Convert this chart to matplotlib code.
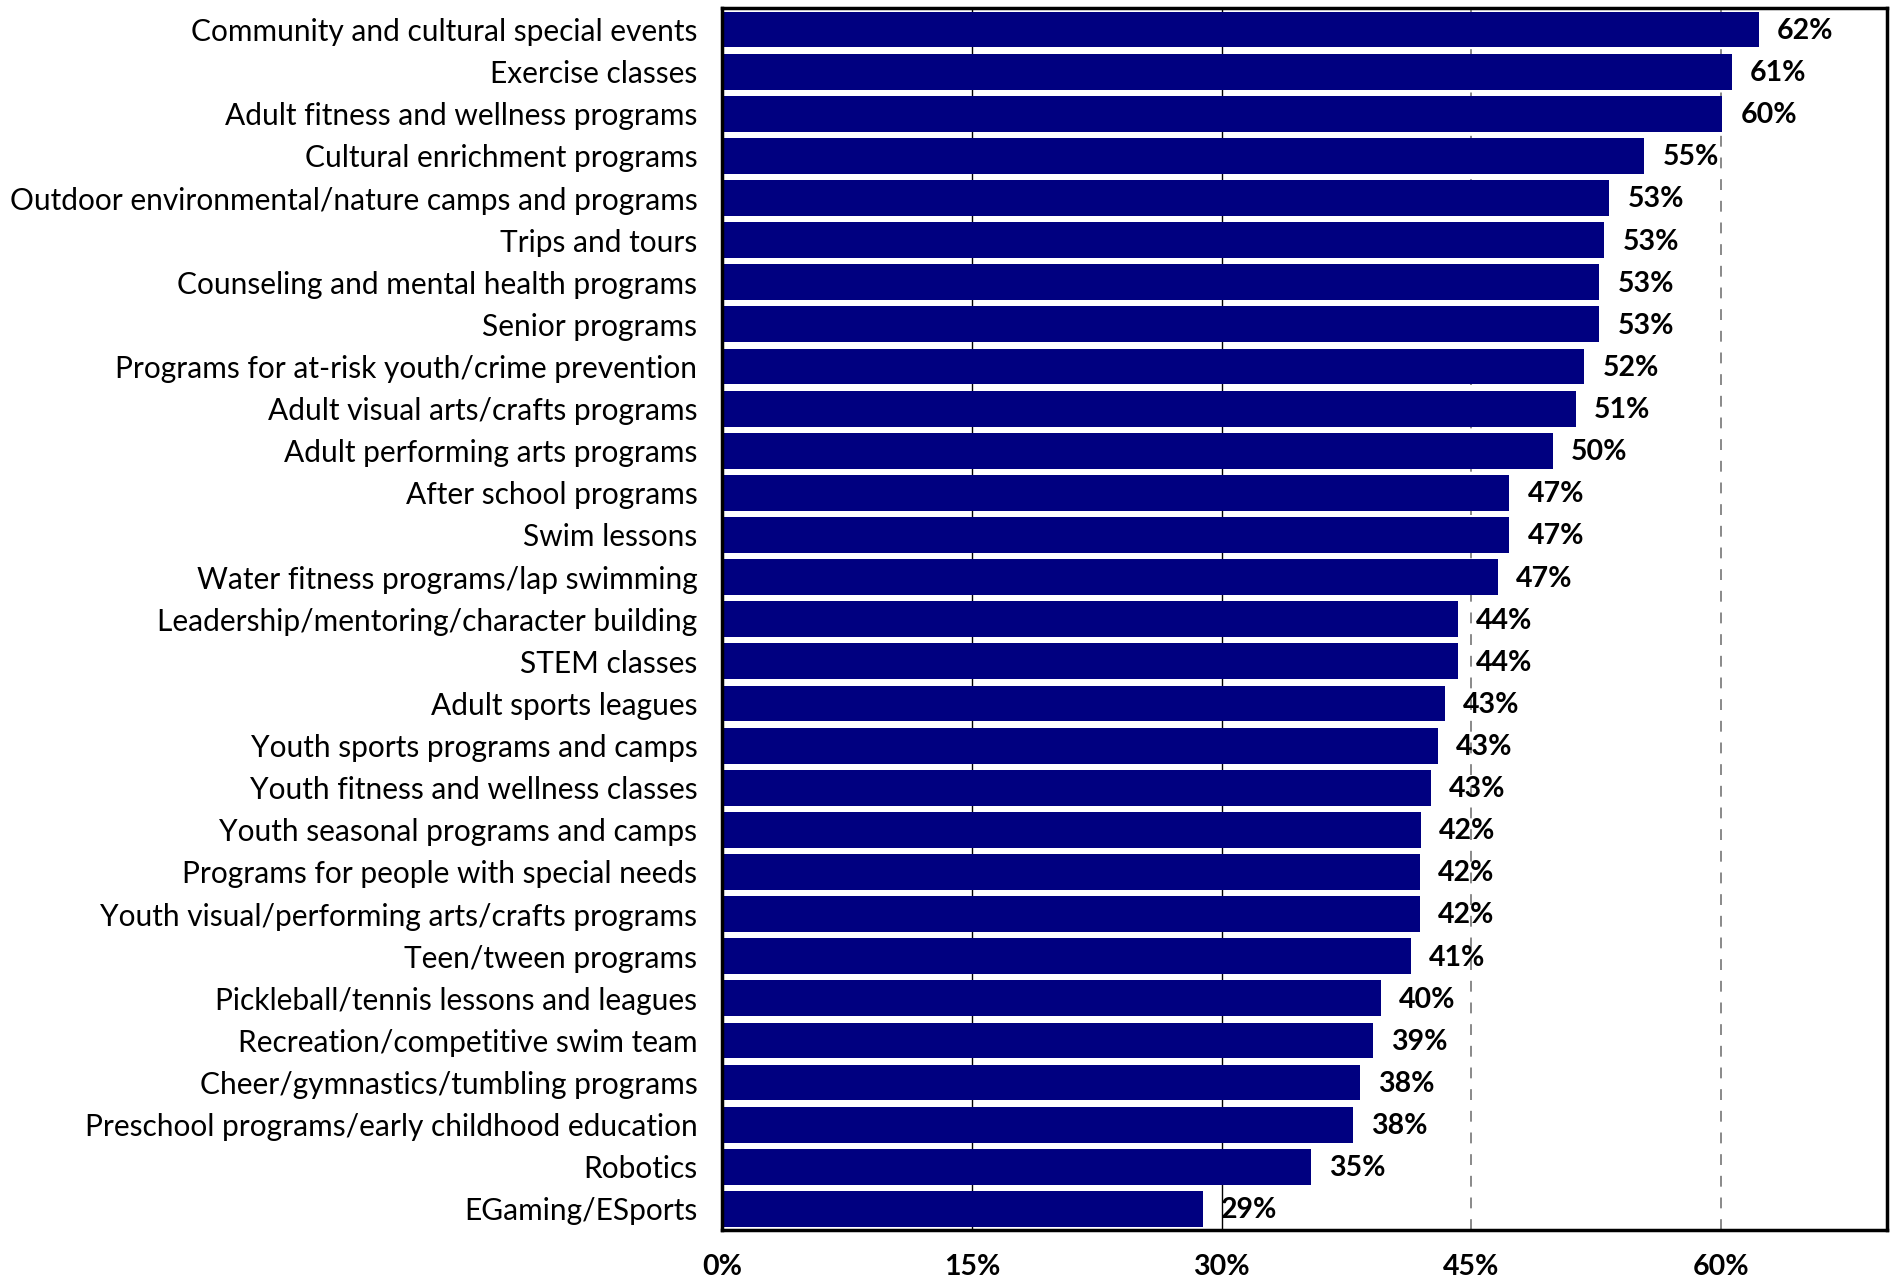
import matplotlib.pyplot as plt

programs = [
    'Community and cultural special events',
    'Exercise classes',
    'Adult fitness and wellness programs',
    'Cultural enrichment programs',
    'Outdoor environmental/nature camps and programs',
    'Trips and tours',
    'Counseling and mental health programs',
    'Senior programs',
    'Programs for at-risk youth/crime prevention',
    'Adult visual arts/crafts programs',
    'Adult performing arts programs',
    'After school programs',
    'Swim lessons',
    'Water fitness programs/lap swimming',
    'Leadership/mentoring/character building',
    'STEM classes',
    'Adult sports leagues',
    'Youth sports programs and camps',
    'Youth fitness and wellness classes',
    'Youth seasonal programs and camps',
    'Programs for people with special needs',
    'Youth visual/performing arts/crafts programs',
    'Teen/tween programs',
    'Pickleball/tennis lessons and leagues',
    'Recreation/competitive swim team',
    'Cheer/gymnastics/tumbling programs',
    'Preschool programs/early childhood education',
    'Robotics',
    'EGaming/ESports',
]
pct = [62.3, 60.65, 60.1, 55.4, 53.3, 53.0, 52.7, 52.7, 51.8, 51.3,
       49.9, 47.3, 47.3, 46.6, 44.2, 44.2, 43.4, 43.0, 42.6, 42.0,
       41.9, 41.9, 41.4, 39.6, 39.1, 38.3, 37.9, 35.4, 28.9]
xticks = [0, 15, 30, 45, 60]

plt.rcParams['font.family'] = ['Lato', 'DejaVu Sans']

fig = plt.figure(figsize=(18.91, 12.83), dpi=100)
ax = fig.add_axes([0.382, 0.0413, 0.616, 0.9521])

ypos = list(range(len(programs)))
ax.barh(ypos, pct, height=0.85, color='#000080', zorder=2)

for y, v in zip(ypos, pct):
    ax.annotate(f'{v:.0f}%', xy=(v, y), xytext=(13, -1), textcoords='offset points',
                ha='left', va='center', fontsize=20.5, fontweight='bold', zorder=3)

# reference lines behind the bars
for x in xticks[1:3]:
    ax.axvline(x, color='black', lw=1, zorder=1)
for x in xticks[3:]:
    ax.axvline(x, color='#808080', lw=1.3, ls=(0, (6, 6)), zorder=1)

ax.set_xlim(0, 70)
ax.set_ylim(len(programs) - 0.5, -0.5)
ax.set_yticks(ypos)
ax.set_yticklabels(programs, fontsize=21.5)
ax.set_xticks(xticks)
ax.set_xticklabels([f'{t}%' for t in xticks], fontsize=20.5, fontweight='bold')
ax.tick_params(axis='y', length=0, pad=18)
ax.tick_params(axis='x', length=0, pad=17)
for s in ax.spines.values():
    s.set_linewidth(2.5)
    s.set_color('black')

fig.savefig('out.png', dpi=100)
